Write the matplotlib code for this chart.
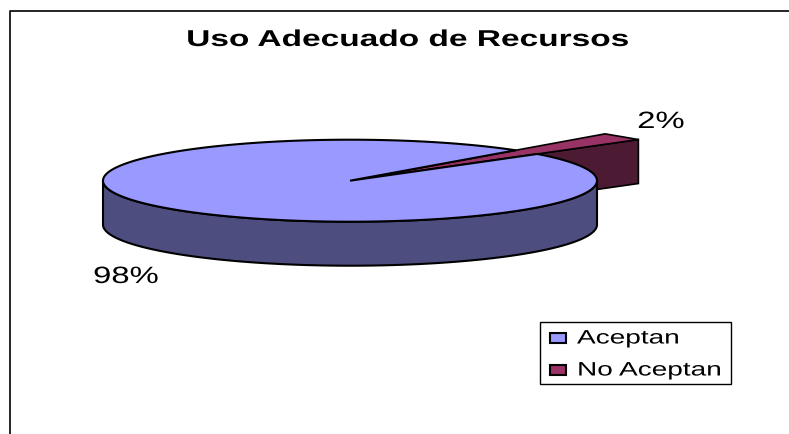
import numpy as np
import matplotlib
matplotlib.use('Agg')
import matplotlib.pyplot as plt
from matplotlib.patches import Polygon, Rectangle
from matplotlib.patheffects import AbstractPathEffect
from matplotlib.transforms import Affine2D

plt.rcParams['font.family'] = ['Liberation Sans', 'DejaVu Sans']

categories = ['Aceptan', 'No Aceptan']
values = [98, 2]
labels = ['98%', '2%']
title = 'Uso Adecuado de Recursos'

# geometria del pastel en pixeles
cx, cy = 350, 181.7
rx, ry = 247, 41
depth = 44
slice_r = 1.54   # la porcion separada sale mas larga
start = 40.7
top_col = ['#9999FF', '#993366']
side_col = ['#4D4D80', '#4D1A33']


class Stretch(AbstractPathEffect):
    # el original esta estirado a lo ancho
    def __init__(self, sx, x0):
        super().__init__()
        self.sx, self.x0 = sx, x0

    def draw_path(self, renderer, gc, tpath, affine, rgbFace=None):
        t = affine + Affine2D().translate(-self.x0, 0).scale(self.sx, 1).translate(self.x0, 0)
        renderer.draw_path(gc, tpath, t, rgbFace)


fig = plt.figure(figsize=(7.89, 4.35), dpi=100)
ax = fig.add_axes([0, 0, 1, 1])
ax.set_xlim(0, 789)
ax.set_ylim(435, 0)
ax.axis('off')


def pt(ang, r=1.0, dz=0):
    a = np.radians(ang)
    return np.column_stack([cx + rx * r * np.cos(a), cy - ry * r * np.sin(a) + dz])


def stext(x, y, s, sx, ha='center', **kw):
    t = ax.text(x, y, s, ha=ha, va='center', **kw)
    t.set_path_effects([Stretch(sx, x)])
    return t


# marco
ax.plot([10.5, 10.5, 789], [435, 11.5, 11.5], color='black', lw=1.2)

a_main = values[0] / sum(values) * 360
a_small = values[1] / sum(values) * 360
end_small = start + a_small

# porcion pequena
c = np.array([[cx, cy]])
p1 = pt(np.array([start]), slice_r)
p2 = pt(np.array([end_small]), slice_r)
ax.add_patch(Polygon(np.vstack([c, p1, p1 + [0, depth], c + [0, depth]]),
                     fc=side_col[1], ec='black', lw=1.2, zorder=2))
ax.add_patch(Polygon(np.vstack([c, p1, p2]), fc=top_col[1], ec='black', lw=1.2, zorder=3))

# lado del pastel
t = np.linspace(180, 360, 120)
ax.add_patch(Polygon(np.vstack([pt(t), pt(t[::-1], dz=depth)]),
                     fc=side_col[0], ec='black', lw=1.5, zorder=4))

# cara superior
t = np.linspace(end_small, end_small + a_main, 360)
ax.add_patch(Polygon(np.vstack([c, pt(t)]), fc=top_col[0], ec='black', lw=1.5, zorder=5))

stext(407, 40.5, title, 1.46, fontsize=16.5, fontweight='bold')
stext(126, 278, labels[0], 1.39, fontsize=17)
stext(661, 123, labels[1], 1.39, fontsize=17)

# leyenda
ax.add_patch(Rectangle((540.5, 322.5), 191, 62, fc='white', ec='black', lw=1.0, zorder=6))
for y, name, col in zip([339, 371], categories, top_col):
    ax.add_patch(Rectangle((550, y - 5), 16, 10, fc=col, ec='black', lw=1.5, zorder=7))
    stext(577, y + 1, name, 1.44, ha='left', fontsize=14, zorder=7)

fig.savefig('out.png', dpi=100)
